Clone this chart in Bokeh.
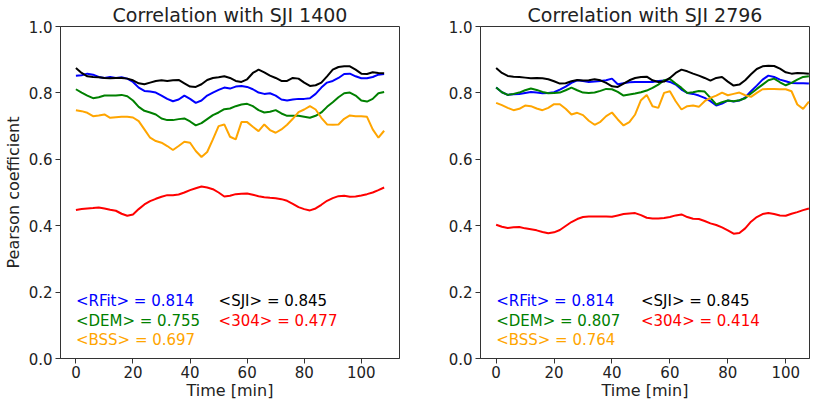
from bokeh.plotting import figure
from bokeh.layouts import row
from bokeh.models import Range1d, FixedTicker, PrintfTickFormatter
from bokeh.core.properties import value
from bokeh.embed import file_html
from bokeh.resources import INLINE

# ---------------- data ----------------
time_min = list(range(0, 110, 2))  # 0..108 min

# Panel 1: correlation with SJI 1400
sji_1400 = [0.875,0.860,0.850,0.848,0.847,0.845,0.844,0.845,0.845,0.843,0.838,0.829,0.826,0.831,0.836,0.838,0.836,0.838,0.839,0.829,
            0.819,0.818,0.826,0.839,0.845,0.847,0.850,0.845,0.836,0.833,0.841,0.860,0.870,0.862,0.852,0.845,0.836,0.836,0.845,0.843,
            0.831,0.821,0.823,0.831,0.850,0.870,0.878,0.880,0.880,0.870,0.858,0.857,0.862,0.860,0.859]
rfit_1400 = [0.852,0.853,0.858,0.855,0.848,0.845,0.848,0.845,0.847,0.843,0.833,0.816,0.806,0.804,0.801,0.792,0.782,0.775,0.780,0.792,
             0.782,0.770,0.777,0.792,0.801,0.809,0.816,0.813,0.819,0.821,0.818,0.811,0.801,0.797,0.799,0.792,0.780,0.777,0.780,0.782,
             0.782,0.784,0.797,0.816,0.831,0.836,0.845,0.857,0.858,0.850,0.844,0.844,0.848,0.855,0.857]
dem_1400 = [0.811,0.801,0.792,0.784,0.787,0.792,0.792,0.792,0.794,0.790,0.777,0.758,0.746,0.741,0.735,0.723,0.718,0.718,0.721,0.723,
            0.714,0.702,0.709,0.721,0.733,0.741,0.751,0.753,0.760,0.765,0.767,0.760,0.748,0.741,0.743,0.748,0.738,0.731,0.731,0.731,
            0.728,0.725,0.731,0.741,0.758,0.772,0.787,0.799,0.801,0.792,0.777,0.774,0.782,0.799,0.803]
bss_1400 = [0.748,0.745,0.740,0.730,0.732,0.735,0.725,0.727,0.728,0.728,0.726,0.715,0.690,0.665,0.655,0.650,0.640,0.628,0.640,0.653,
            0.650,0.625,0.607,0.622,0.660,0.700,0.705,0.668,0.660,0.712,0.712,0.698,0.685,0.705,0.688,0.680,0.690,0.704,0.722,0.742,
            0.750,0.760,0.750,0.725,0.705,0.704,0.705,0.722,0.732,0.730,0.730,0.728,0.690,0.665,0.686]
aia304_1400 = [0.447,0.450,0.452,0.453,0.455,0.452,0.448,0.445,0.436,0.430,0.434,0.450,0.464,0.474,0.481,0.487,0.492,0.492,0.494,0.500,
               0.507,0.513,0.518,0.515,0.510,0.500,0.488,0.490,0.495,0.496,0.497,0.493,0.489,0.486,0.484,0.483,0.480,0.475,0.466,0.456,
               0.450,0.446,0.452,0.463,0.475,0.483,0.489,0.490,0.487,0.488,0.491,0.495,0.500,0.507,0.515]

# Panel 2: correlation with SJI 2796
sji_2796 = [0.875,0.860,0.851,0.849,0.848,0.846,0.844,0.845,0.844,0.841,0.835,0.828,0.829,0.835,0.839,0.837,0.838,0.841,0.838,0.830,
            0.820,0.818,0.828,0.838,0.845,0.848,0.849,0.838,0.833,0.834,0.845,0.860,0.870,0.865,0.858,0.852,0.845,0.837,0.845,0.848,
            0.834,0.822,0.825,0.838,0.856,0.872,0.880,0.882,0.881,0.873,0.862,0.858,0.860,0.859,0.858]
rfit_2796 = [0.816,0.802,0.794,0.796,0.797,0.800,0.803,0.801,0.799,0.800,0.802,0.810,0.819,0.830,0.838,0.836,0.833,0.834,0.836,0.838,
             0.843,0.826,0.829,0.832,0.833,0.833,0.833,0.833,0.836,0.837,0.833,0.825,0.810,0.800,0.797,0.792,0.785,0.775,0.762,0.768,
             0.777,0.774,0.777,0.786,0.805,0.822,0.840,0.852,0.848,0.840,0.835,0.830,0.829,0.829,0.828]
dem_2796 = [0.816,0.802,0.794,0.797,0.801,0.808,0.813,0.809,0.803,0.799,0.800,0.801,0.808,0.816,0.808,0.801,0.800,0.801,0.806,0.812,
            0.811,0.803,0.792,0.795,0.798,0.802,0.807,0.815,0.825,0.838,0.842,0.828,0.815,0.800,0.802,0.806,0.804,0.785,0.765,0.772,
            0.777,0.775,0.778,0.784,0.798,0.812,0.825,0.838,0.843,0.832,0.823,0.830,0.840,0.848,0.850]
bss_2796 = [0.770,0.763,0.755,0.748,0.752,0.762,0.760,0.753,0.748,0.755,0.766,0.766,0.752,0.735,0.740,0.733,0.716,0.704,0.713,0.730,
            0.741,0.720,0.702,0.712,0.735,0.778,0.794,0.760,0.755,0.800,0.805,0.775,0.750,0.760,0.762,0.758,0.775,0.785,0.792,0.801,
            0.793,0.797,0.801,0.793,0.788,0.800,0.811,0.812,0.812,0.811,0.811,0.805,0.765,0.752,0.774]
aia304_2796 = [0.403,0.397,0.393,0.395,0.396,0.392,0.389,0.386,0.381,0.377,0.380,0.387,0.399,0.411,0.420,0.426,0.428,0.428,0.428,0.428,
               0.427,0.431,0.435,0.437,0.438,0.432,0.424,0.422,0.422,0.423,0.426,0.431,0.434,0.426,0.421,0.420,0.414,0.407,0.402,0.395,
               0.386,0.376,0.378,0.392,0.412,0.426,0.435,0.438,0.435,0.431,0.430,0.436,0.441,0.447,0.452]

stat_names = ["RFit", "DEM", "BSS", "SJI", "304"]
stat_means_1400 = [0.814, 0.755, 0.697, 0.845, 0.477]
stat_means_2796 = [0.814, 0.807, 0.764, 0.845, 0.414]

x_ticks = [0, 20, 40, 60, 80, 100]
y_ticks = [0.0, 0.2, 0.4, 0.6, 0.8, 1.0]

# ---------------- styling ----------------
FONT = "DejaVu Sans"
colors = {"RFit": "blue", "DEM": "green", "BSS": "orange", "SJI": "black", "304": "red"}
AX = "#333333"
TXT = "#222222"
PX_PER_MIN = 2.896


def make_panel(title, series, means, width, left, right, ylabel):
    frame_w = width - left - right
    x_end = -5.4 + frame_w / PX_PER_MIN
    p = figure(width=width, height=402, output_backend="svg", toolbar_location=None,
               x_range=Range1d(-5.4, x_end), y_range=Range1d(0, 1),
               min_border_left=left, min_border_right=right,
               min_border_top=21, min_border_bottom=40)
    p.title.text = title
    p.title.align = "center"
    p.title.text_font = FONT
    p.title.text_font_size = "19px"
    p.title.text_font_style = "normal"
    p.title.text_color = TXT
    p.title.standoff = 2
    p.grid.visible = False
    p.outline_line_color = AX
    p.outline_line_width = 1
    p.background_fill_color = "white"
    p.border_fill_color = "white"

    for ax in (p.xaxis[0], p.yaxis[0]):
        ax.axis_line_color = AX
        ax.major_tick_line_color = AX
        ax.major_tick_out = 5
        ax.major_tick_in = 0
        ax.minor_tick_line_color = None
        ax.major_label_text_font = FONT
        ax.major_label_text_font_size = "15px"
        ax.major_label_text_color = TXT
        ax.major_label_text_line_height = 1.0
        ax.major_label_standoff = 2
        ax.axis_label_text_font = FONT
        ax.axis_label_text_font_size = "16px"
        ax.axis_label_text_font_style = "normal"
        ax.axis_label_text_color = TXT
        ax.axis_label_text_line_height = 1.0
    p.xaxis.ticker = FixedTicker(ticks=x_ticks)
    p.yaxis.ticker = FixedTicker(ticks=y_ticks)
    p.yaxis.formatter = PrintfTickFormatter(format="%.1f")
    p.yaxis.major_label_standoff = 3
    p.xaxis.axis_label = "Time [min]"
    p.xaxis.axis_label_standoff = 0
    if ylabel:
        p.yaxis.axis_label = ylabel
        p.yaxis.axis_label_standoff = 3

    # draw order as in the reference: RFit, DEM, BSS, SJI, 304
    for name in ["RFit", "DEM", "BSS", "SJI", "304"]:
        p.line(time_min, series[name], line_color=colors[name], line_width=2)

    # mean-value annotations
    pos = {"RFit": (0, 0.173), "DEM": (0, 0.114), "BSS": (0, 0.056),
           "SJI": (50, 0.173), "304": (50, 0.114)}
    for name, m in zip(stat_names, means):
        x, y = pos[name]
        p.text(x=[x], y=[y], text=[f"<{name}> = {m:.3f}"], text_color=colors[name],
               text_font=value(FONT), text_font_size="15px",
               text_baseline="middle", text_align="left")
    return p


p1 = make_panel("Correlation with SJI 1400",
                {"RFit": rfit_1400, "DEM": dem_1400, "BSS": bss_1400, "SJI": sji_1400, "304": aia304_1400},
                stat_means_1400, width=432, left=55, right=33, ylabel="Pearson coefficient")
p2 = make_panel("Correlation with SJI 2796",
                {"RFit": rfit_2796, "DEM": dem_2796, "BSS": bss_2796, "SJI": sji_2796, "304": aia304_2796},
                stat_means_2796, width=378, left=48, right=1, ylabel=None)

layout = row(p1, p2)
open("out.html", "w").write(file_html(layout, INLINE))
